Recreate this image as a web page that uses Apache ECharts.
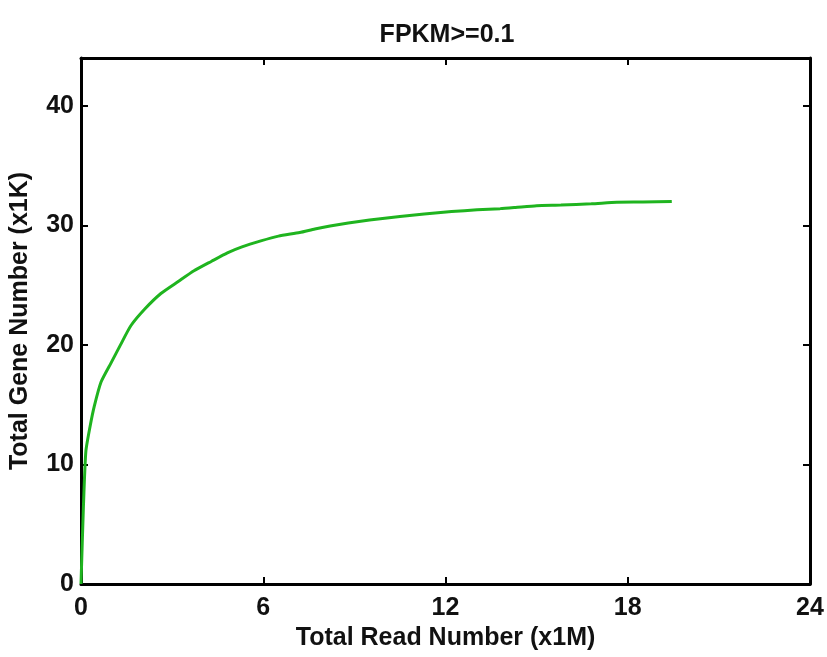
<!DOCTYPE html>
<html><head><meta charset="utf-8">
<script src="https://cdn.jsdelivr.net/npm/echarts@6/dist/echarts.min.js"></script>
<style>html,body{margin:0;padding:0;background:#fff}#c{width:827px;height:657px}</style>
</head><body><div id="c"></div>
<script>
const titleText = "FPKM>=0.1";
const xName = "Total Read Number (x1M)";
const yName = "Total Gene Number (x1K)";
const xTicks = [0, 6, 12, 18, 24];
const yTicks = [0, 10, 20, 30, 40];
const readsM = [0, 0.08, 0.16, 0.3, 0.44, 0.66, 0.99, 1.3, 1.64, 2.1, 2.63, 3.2, 3.72, 4.3, 4.82, 5.3, 5.92, 6.5, 7.2, 7.7, 8.2, 8.8, 9.5, 10.5, 11.3, 12.2, 13.04, 13.8, 14.3, 15.0, 15.8, 16.8, 17.64, 18.5, 19.45];
const genesK = [0, 6.5, 11.1, 13.2, 14.9, 16.9, 18.5, 20.0, 21.6, 23.0, 24.3, 25.3, 26.2, 27.0, 27.7, 28.2, 28.7, 29.1, 29.4, 29.7, 29.95, 30.2, 30.45, 30.75, 30.95, 31.15, 31.3, 31.4, 31.5, 31.65, 31.7, 31.8, 31.93, 31.95, 32.0];

const FONT = "'Liberation Sans', Arial, sans-serif";
const chart = echarts.init(document.getElementById('c'), null, {renderer: 'canvas'});
const axisLine = {show: true, onZero: false, lineStyle: {color: '#000', width: 3}};
const tick = {show: true, inside: true, length: 7, lineStyle: {color: '#000', width: 2}};
chart.setOption({
  animation: false,
  title: {text: titleText, left: 442, top: 18, textAlign: 'center',
    textStyle: {fontFamily: FONT, fontWeight: 'bold', fontSize: 25, color: '#111'}},
  grid: {left: 78, right: 17, top: 58, bottom: 73, containLabel: false},
  xAxis: [{
    type: 'value', min: 0, max: 24, interval: 6, position: 'bottom',
    name: xName, nameLocation: 'middle', nameGap: 39,
    nameTextStyle: {fontFamily: FONT, fontWeight: 'bold', fontSize: 25, color: '#111'},
    axisLine: axisLine, axisTick: tick,
    axisLabel: {fontFamily: FONT, fontWeight: 'bold', fontSize: 25, color: '#111', margin: 12,
      formatter: v => xTicks.includes(v) ? String(v) : ''},
    splitLine: {show: false}
  }, {
    type: 'value', min: 0, max: 24, interval: 6, position: 'top',
    axisLine: axisLine, axisTick: tick,
    axisLabel: {show: false}, splitLine: {show: false}
  }],
  yAxis: [{
    type: 'value', min: 0, max: 44, interval: 10, position: 'left',
    name: yName, nameLocation: 'middle', nameGap: 48,
    nameTextStyle: {fontFamily: FONT, fontWeight: 'bold', fontSize: 25, color: '#111'},
    axisLine: axisLine, axisTick: tick,
    axisLabel: {fontFamily: FONT, fontWeight: 'bold', fontSize: 25, color: '#111', margin: 7,
      showMaxLabel: false,
      formatter: v => yTicks.includes(v) ? String(v) : ''},
    splitLine: {show: false}
  }, {
    type: 'value', min: 0, max: 44, interval: 10, position: 'right',
    axisLine: axisLine, axisTick: tick,
    axisLabel: {show: false}, splitLine: {show: false}
  }],
  series: [{
    type: 'line', xAxisIndex: 0, yAxisIndex: 0,
    data: readsM.map((x, i) => [x, genesK[i]]),
    showSymbol: false, smooth: 0.2,
    lineStyle: {color: '#1fb41f', width: 3},
    z: 1
  }]
});
</script></body></html>
